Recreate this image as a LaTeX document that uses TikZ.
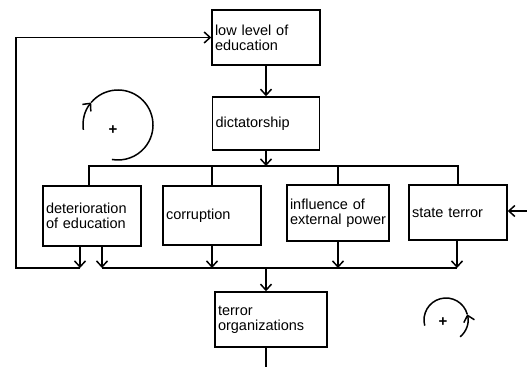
\documentclass[tikz,border=0pt]{standalone}
\usepackage{fontspec}
\setmainfont{Liberation Sans}
\usetikzlibrary{arrows.meta}

\begin{document}
\begin{tikzpicture}[x=1pt,y=1pt,
  box/.style={draw,line width=1.5pt,align=left,inner xsep=3pt,font=\fontsize{14.5}{15}\selectfont},
  flow/.style={line width=1.5pt},
  sign/.style={font=\fontsize{15}{15}\selectfont\bfseries,inner sep=0pt},
  >={Straight Barb[length=6pt,width=11pt]}]
\useasboundingbox (0,0) rectangle (527,367);
% blocks
\node[box,text width=102pt,minimum height=55pt] (low) at (266,329.5) {low level of\\education};
\node[box,text width=101pt,minimum height=53pt] (dict) at (266,243.5) {dictatorship};
\node[box,text width=92pt,minimum height=60pt] (det) at (92,151) {deterioration\\of education};
\node[box,text width=92pt,minimum height=59pt] (cor) at (212,151.5) {corruption};
\node[box,text width=96pt,minimum height=56pt] (inf) at (338,154) {influence of\\external power};
\node[box,text width=92pt,minimum height=55pt] (st) at (458,154.5) {state terror};
\node[box,text width=106pt,minimum height=55pt] (terror) at (271,47.5) {terror\\organizations};
% junctions
\coordinate (busL) at (89,201);
\coordinate (busR) at (458,201);
\coordinate (fbA) at (80,99);
\coordinate (fbB) at (16,99);
\coordinate (sumL) at (102,99);
\coordinate (sumR) at (457,99);
\coordinate (drop) at (266,99);
\coordinate (outS) at (266,0);
\coordinate (inE) at (527,156);
% links
\draw[flow,->] (low) -- (dict);
\draw[flow,->] (dict.south) -- (dict.south |- busL);
\draw[flow] (det.north -| busL) -- (busL) -- (busR) -- (st.north -| busR);
\draw[flow] (cor.north) -- (cor.north |- busL);
\draw[flow] (inf.north) -- (inf.north |- busL);
\draw[flow,->] (det.south -| fbA) -- (fbA);
\draw[flow,->] (fbA) -- (fbB) -- (fbB |- low.west) -- (low.west);
\draw[flow,->] (det.south -| sumL) -- (sumL);
\draw[flow] (sumL) -- (sumR);
\draw[flow,->] (cor.south) -- (cor.south |- sumL);
\draw[flow,->] (inf.south) -- (inf.south |- sumL);
\draw[flow,->] (st.south -| sumR) -- (sumR);
\draw[flow,->] (drop) -- (drop |- terror.north);
\draw[flow] (drop |- terror.south) -- (outS);
\draw[flow,->] (inE) -- (inE -| st.east);
% loops
\draw[flow,->] (118,242) ++(188:35) arc[start angle=188,end angle=140,radius=35];
\draw[flow] (118,242) ++(140:35) arc[start angle=140,end angle=-100,radius=35];
\node[sign] (plusA) at (113,237) {+};
\draw[flow,->] (446,47) ++(-50:22) arc[start angle=-50,end angle=15,radius=22];
\draw[flow] (446,47) ++(15:22) arc[start angle=15,end angle=195,radius=22];
\node[sign] (plusB) at (443,45) {+};
\end{tikzpicture}
\end{document}
